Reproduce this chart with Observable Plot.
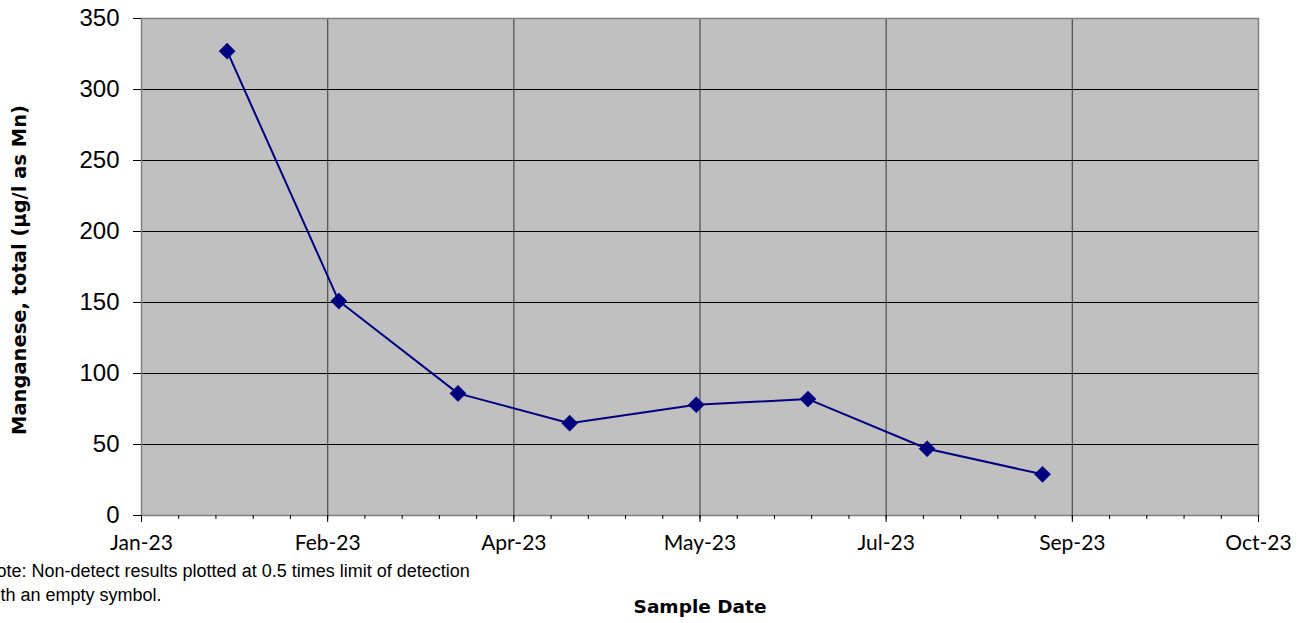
<!DOCTYPE html>
<html>
<head>
<meta charset="utf-8">
<script src="https://cdn.jsdelivr.net/npm/d3@7"></script>
<script src="https://cdn.jsdelivr.net/npm/@observablehq/plot@0.6"></script>
<style>
  html, body { margin: 0; padding: 0; background: #ffffff; overflow: hidden; }
  #chart { width: 1307px; height: 623px; }
</style>
</head>
<body>
<div id="chart"></div>
<script>
// ---- Data ----
const sampleDates = ["2023-01-24", "2023-02-23", "2023-03-27", "2023-04-26", "2023-05-30", "2023-06-29", "2023-07-31", "2023-08-31"];
const manganese = [327, 151, 86, 65, 78, 82, 47, 29];

// Axis definitions
const yTicks = [0, 50, 100, 150, 200, 250, 300, 350];
const xTickDates = ["2023-01-01", "2023-02-20", "2023-04-11", "2023-05-31", "2023-07-20", "2023-09-08", "2023-10-28"];
const xTickLabels = ["Jan-23", "Feb-23", "Apr-23", "May-23", "Jul-23", "Sep-23", "Oct-23"];
const minorStepDays = 10;

const yTitle = "Manganese, total (µg/l as Mn)";
const xTitle = "Sample Date";
const noteLines = ["Note: Non-detect results plotted at 0.5 times limit of detection", "with an empty symbol."];

// ---- Build tables ----
const parse = d3.utcParse("%Y-%m-%d");
const data = sampleDates.map((d, i) => ({date: parse(d), value: manganese[i]}));
const majorTicks = xTickDates.map(parse);
const labelOf = new Map(majorTicks.map((d, i) => [+d, xTickLabels[i]]));
const spanDays = d3.utcDay.count(majorTicks[0], majorTicks[majorTicks.length - 1]);
const minorTicks = d3.range(0, spanDays + 1, minorStepDays).map(k => d3.utcDay.offset(majorTicks[0], k));
const innerMajor = majorTicks.slice(1, -1);

const navy = "#000080";
const titleFont = "DejaVu Sans";

const chart = Plot.plot({
  width: 1307,
  height: 623,
  marginLeft: 141,
  marginRight: 49,
  marginTop: 18,
  marginBottom: 108,
  style: {background: "#ffffff", overflow: "visible"},
  x: {type: "utc", domain: [majorTicks[0], majorTicks[majorTicks.length - 1]]},
  y: {domain: [0, 350]},
  marks: [
    Plot.frame({fill: "#c0c0c0", stroke: "none"}),
    Plot.gridX(innerMajor, {stroke: "#555555", strokeOpacity: 1, strokeWidth: 1.3}),
    Plot.gridY(yTicks.slice(1, -1), {stroke: "#000000", strokeOpacity: 1, strokeWidth: 1}),
    Plot.frame({stroke: "#808080", strokeWidth: 1.5}),
    // minor x ticks
    Plot.axisX(minorTicks, {tickSize: 4, text: null, label: null, stroke: "#000", strokeWidth: 1}),
    // major x ticks
    Plot.axisX(majorTicks, {
      tickSize: 7, tickPadding: 13, label: null, stroke: "#000", strokeWidth: 1,
      tickFormat: d => labelOf.get(+d),
      fontSize: 21, fontFamily: "Lato", fill: "#000"
    }),
    Plot.axisY(yTicks, {
      tickSize: 8, tickPadding: 14, label: null, stroke: "#000", strokeWidth: 1,
      fontSize: 24, fontFamily: "Liberation Sans, Arial", fill: "#000"
    }),
    Plot.line(data, {x: "date", y: "value", stroke: navy, strokeWidth: 2}),
    Plot.dot(data, {x: "date", y: "value", symbol: "diamond2", r: 7.3, fill: navy, stroke: navy, strokeWidth: 0.5}),
    // Y title
    Plot.text([yTitle], {
      frameAnchor: "left", textAnchor: "middle", dx: -122, dy: 3, rotate: -90,
      fontSize: 19.5, fontWeight: "bold", fontFamily: titleFont, fill: "#000"
    }),
    // X title
    Plot.text([xTitle], {
      frameAnchor: "bottom", textAnchor: "middle", dy: 92, lineAnchor: "middle",
      fontSize: 18.5, fontWeight: "bold", fontFamily: titleFont, fill: "#000"
    }),
    // Note (two lines)
    Plot.text([noteLines[0]], {
      frameAnchor: "bottom-left", dx: -158, dy: 56, textAnchor: "start", lineAnchor: "middle",
      fontSize: 18, fontFamily: "Liberation Sans, Arial", fill: "#000"
    }),
    Plot.text([noteLines[1]], {
      frameAnchor: "bottom-left", dx: -158, dy: 80, textAnchor: "start", lineAnchor: "middle",
      fontSize: 18, fontFamily: "Liberation Sans, Arial", fill: "#000"
    })
  ]
});

document.getElementById("chart").appendChild(chart);
</script>
</body>
</html>
